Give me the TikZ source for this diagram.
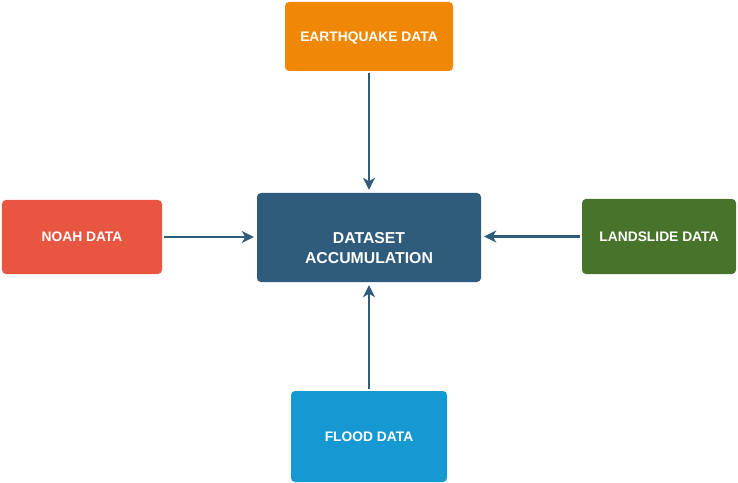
\documentclass[tikz,border=0pt]{standalone}
\usepackage{fontspec}
\setmainfont{Liberation Sans}
\usetikzlibrary{arrows.meta}
\definecolor{eqorange}{HTML}{F08705}
\definecolor{accblue}{HTML}{2F5B7C}
\definecolor{noahred}{HTML}{E85642}
\definecolor{landgreen}{HTML}{47742A}
\definecolor{floodblue}{HTML}{1699D3}
\definecolor{arrowblue}{HTML}{2F5B7C}
\tikzset{
  box/.style={rounded corners=4bp, inner sep=0pt, text=white,
    font=\fontsize{13.8bp}{16bp}\selectfont\bfseries, text height=10bp, text depth=0pt},
  bigtxt/.style={inner sep=0pt, text=white, align=center,
    font=\fontsize{15.8bp}{20bp}\selectfont\bfseries},
  conn/.style={draw=arrowblue, line width=2.7bp,
    -{Stealth[length=12bp,width=12bp,inset=3.5bp]}, shorten >=3bp, shorten <=1.5bp}
}
\begin{document}
\begin{tikzpicture}[x=1bp,y=-1bp]
\useasboundingbox (0,0) rectangle (738,483);
\node[box, fill=eqorange, minimum width=168bp, minimum height=69bp] (eq) at (369,36.5) {EARTHQUAKE DATA};
\node[box, fill=accblue, minimum width=224bp, minimum height=89bp, text height=0pt] (acc) at (369,237.5) {};
\node[bigtxt] (acctxt) at (369,248) {DATASET\\ACCUMULATION};
\node[box, fill=noahred, minimum width=160bp, minimum height=74bp] (noah) at (82,237) {NOAH DATA};
\node[box, fill=landgreen, minimum width=154bp, minimum height=75bp] (land) at (659,236.5) {LANDSLIDE DATA};
\node[box, fill=floodblue, minimum width=156bp, minimum height=91bp] (flood) at (369,436.5) {FLOOD DATA};
\draw[conn] (eq.south) -- (acc.north);
\draw[conn] (flood.north) -- (acc.south);
\draw[conn] (noah.east) -- (noah.east -| acc.west);
\draw[conn] (land.west) -- (land.west -| acc.east);
\end{tikzpicture}
\end{document}
